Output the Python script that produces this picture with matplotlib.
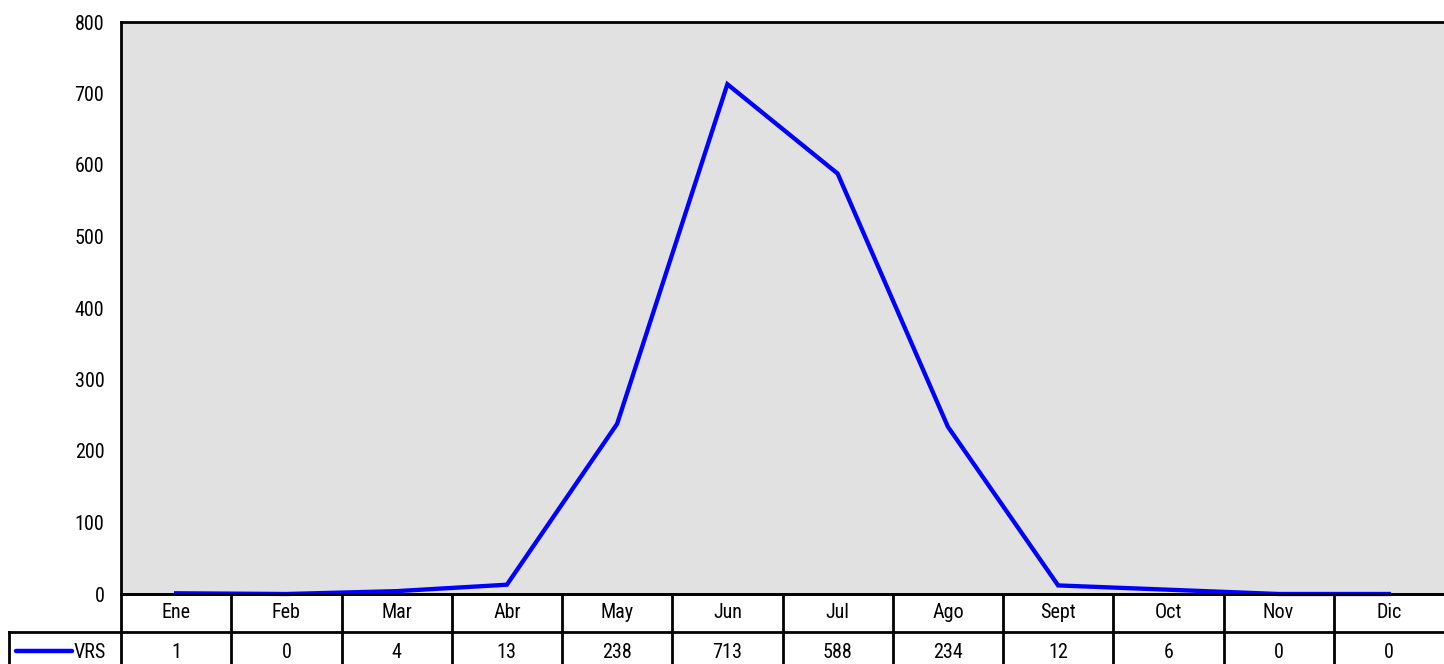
import matplotlib
matplotlib.use("Agg")
import matplotlib.pyplot as plt
from matplotlib.lines import Line2D

plt.rcParams['font.family'] = ['Roboto Condensed', 'Liberation Sans', 'DejaVu Sans']

months = ["Ene", "Feb", "Mar", "Abr", "May", "Jun", "Jul", "Ago", "Sept", "Oct", "Nov", "Dic"]
vrs = [1, 0, 4, 13, 238, 713, 588, 234, 12, 6, 0, 0]
series_name = "VRS"
yticks = [0, 100, 200, 300, 400, 500, 600, 700, 800]

W, H = 1444, 664
FS = 14.5
fig = plt.figure(figsize=(W / 100, H / 100), dpi=100)

# pixel geometry of the plot area
left_px, right_px, top_px, bottom_px = 121, 1444, 22, 594
ax = fig.add_axes([left_px / W, 1 - bottom_px / H,
                   (right_px - left_px) / W, (bottom_px - top_px) / H])
ax.set_facecolor("#E1E1E1")

x = list(range(len(months)))
ax.plot(x, vrs, color="#0000FF", lw=3.1, solid_joinstyle="miter", clip_on=False, zorder=3)

ax.set_xlim(-0.5, len(months) - 0.5)
ax.set_ylim(0, 800)
ax.set_yticks(yticks)
ax.set_yticklabels([str(v) for v in yticks], fontsize=FS)
ax.tick_params(axis="y", length=0, pad=12)
ax.set_xticks([])
ax.spines["right"].set_visible(False)
for side in ("left", "top", "bottom"):
    ax.spines[side].set_linewidth(2)
    ax.spines[side].set_color("black")

# data table below the plot, drawn in pixel coordinates
def fx(px):
    return px / W

def fy(py):
    return 1 - py / H

col_w = (right_px - left_px) / len(months)
hdr_top, hdr_bot, val_bot = 594, 632, 666
legend_left = 9
lw = 2

lines = []
# horizontal rules
lines.append(([left_px, right_px], [hdr_top, hdr_top]))
lines.append(([legend_left, right_px], [hdr_bot, hdr_bot]))
# vertical rules
lines.append(([left_px, left_px], [hdr_top, val_bot]))
lines.append(([legend_left, legend_left], [hdr_bot, val_bot]))
for i in range(1, len(months)):
    xp = left_px + i * col_w
    lines.append(([xp, xp], [hdr_top, val_bot]))
for xs, ys in lines:
    fig.add_artist(Line2D([fx(v) for v in xs], [fy(v) for v in ys],
                          color="black", lw=lw, solid_capstyle="projecting"))

for i, (m, v) in enumerate(zip(months, vrs)):
    cx = left_px + (i + 0.5) * col_w
    fig.text(fx(cx), fy(612), m, ha="center", va="center", fontsize=FS)
    fig.text(fx(cx), fy(652), str(v), ha="center", va="center", fontsize=FS)

# legend key in the value row
fig.add_artist(Line2D([fx(16), fx(72)], [fy(651), fy(651)], color="#0000FF", lw=3.2,
                      solid_capstyle="round"))
fig.text(fx(74), fy(652), series_name, ha="left", va="center", fontsize=FS)

fig.savefig("out.png", dpi=100)
